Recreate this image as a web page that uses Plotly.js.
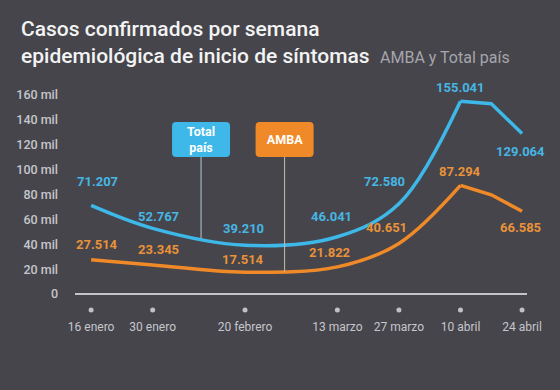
<!DOCTYPE html>
<html><head><meta charset="utf-8">
<script src="https://cdn.plot.ly/plotly-3.0.1.min.js"></script>
<style>html,body{margin:0;padding:0;background:#45454b}</style>
</head><body>
<div id="chart" style="width:560px;height:390px"></div>
<script>
// ---- data ----
const weeks = ['2021-01-16','2021-01-30','2021-02-20','2021-03-13','2021-03-27','2021-04-10','2021-04-17','2021-04-24'];
const totalPais = [71207, 52767, 39210, 46041, 72580, 155041, 152900, 129064];
const amba      = [27514, 23345, 17514, 21822, 40651, 87294, 79800, 66585];
const totalLabels = ['71.207','52.767','39.210','46.041','72.580','155.041','','129.064'];
const ambaLabels  = ['27.514','23.345','17.514','21.822','40.651','87.294','','66.585'];
const tickDates  = ['2021-01-16','2021-01-30','2021-02-20','2021-03-13','2021-03-27','2021-04-10','2021-04-24'];
const tickLabels = ['16 enero','30 enero','20 febrero','13 marzo','27 marzo','10 abril','24 abril'];
const yTickVals  = [0,20000,40000,60000,80000,100000,120000,140000,160000];
const yTickText  = ['0','20 mil','40 mil','60 mil','80 mil','100 mil','120 mil','140 mil','160 mil'];

// ---- styles ----
const BG = '#45454b';
const BLUE = '#3db8e8', ORANGE = '#f08a28';
const BLUE_TXT = '#47b6e4', ORANGE_TXT = '#e9923a';
const AX = '#c6c6cb';
const FONT = 'Roboto';
const peak = 5; // index where the smooth rise ends

const traces = [];
[[totalPais, BLUE],[amba, ORANGE]].forEach(([ys, col]) => {
  traces.push({x: weeks.slice(0,peak+1), y: ys.slice(0,peak+1), type:'scatter', mode:'lines',
    line:{color:col, width:3.5, shape:'spline', smoothing:1}, hoverinfo:'skip', showlegend:false});
  traces.push({x: weeks.slice(peak), y: ys.slice(peak), type:'scatter', mode:'lines',
    line:{color:col, width:3.5}, hoverinfo:'skip', showlegend:false});
});

// label offsets (px) per point
const totalDY = [24, 12, 17, 20, 22, 14, 0, -18];
const totalDX = [6, 6, -2, -6, -14, 0, 0, -2];
const ambaDY  = [15, 15, 13, 14, 16, 14, 0, -16];
const ambaDX  = [6, 6, -2, -8, -12, 0, 0, -2];
const annotations = [];
function addLabels(ys, labels, dy, dx, col){
  ys.forEach((v,i) => {
    if(!labels[i]) return;
    annotations.push({x: weeks[i], y: v, xref:'x', yref:'y', text: labels[i], showarrow:false,
      yshift: dy[i], xshift: dx[i], font:{family:FONT, size:13, color:col, weight:'bold'}});
  });
}
addLabels(totalPais, totalLabels, totalDY, totalDX, BLUE_TXT);
addLabels(amba, ambaLabels, ambaDY, ambaDX, ORANGE_TXT);

// callouts (rounded boxes drawn as shapes, text + leader line as annotations)
const boxY = 124200;
const callouts = [
  {date:'2021-02-10', tip:45000, text:'Total<br>país', fill:BLUE, lineCol:'#b9c6cf'},
  {date:'2021-03-01', tip:17500, text:'AMBA', fill:ORANGE, lineCol:'#c9bcae'}
];
const hw = 29, hh = 17.5, r = 4;
const roundRect = `M ${-hw+r},${-hh} L ${hw-r},${-hh} Q ${hw},${-hh} ${hw},${-hh+r} L ${hw},${hh-r} Q ${hw},${hh} ${hw-r},${hh} L ${-hw+r},${hh} Q ${-hw},${hh} ${-hw},${hh-r} L ${-hw},${-hh+r} Q ${-hw},${-hh} ${-hw+r},${-hh} Z`;
const shapes = [];
callouts.forEach(c => {
  shapes.push({type:'path', xref:'x', yref:'y', xsizemode:'pixel', ysizemode:'pixel',
    xanchor:c.date, yanchor:boxY, path:roundRect, fillcolor:c.fill, line:{width:0}, layer:'above'});
  annotations.push({x:c.date, y:c.tip, xref:'x', yref:'y', axref:'x', ayref:'y', ax:c.date, ay:boxY,
    text:c.text, showarrow:true, arrowhead:0, arrowwidth:1, arrowcolor:c.lineCol,
    borderwidth:0, borderpad:0, width:2*hw, height:2*hh,
    font:{family:FONT, size:12.5, color:'#ffffff', weight:'bold'}});
});

// x tick dots
tickDates.forEach(d => shapes.push({type:'circle', xref:'x', yref:'paper', xsizemode:'pixel', ysizemode:'pixel',
  xanchor:d, yanchor:-0.047, x0:-2.5, x1:2.5, y0:-2.5, y1:2.5, fillcolor:'#c0c0c5', line:{width:0}}));

const layout = {
  width:560, height:390,
  paper_bgcolor:BG, plot_bgcolor:BG,
  margin:{l:75, r:33, t:88, b:90},
  font:{family:FONT, color:AX},
  title:{text:"Casos confirmados por semana<br>epidemiológica de inicio de síntomas  <span style='font-size:16px;color:#a6a6ab;font-weight:400'>AMBA y Total país</span>",
    x:21/560, xanchor:'left', xref:'container', y:1-36/390, yanchor:'top', yref:'container',
    font:{family:FONT, size:21, color:'#f3f3f3', weight:500}},
  xaxis:{type:'date', range:['2021-01-12 08:00','2021-04-25 03:00'], tickvals:tickDates, ticktext:tickLabels,
    showgrid:false, zeroline:false, showline:false, ticks:'outside', ticklen:16, tickcolor:'rgba(0,0,0,0)',
    tickfont:{family:FONT, size:12, color:AX}, fixedrange:true},
  yaxis:{range:[-4800,165600], tickvals:yTickVals, ticktext:yTickText, showgrid:false,
    zeroline:true, zerolinecolor:'#c3c3c8', zerolinewidth:2, showline:false, ticks:'',
    ticklabelstandoff:16, tickfont:{family:FONT, size:12.5, color:AX, weight:500}, fixedrange:true},
  annotations, shapes, showlegend:false
};
Plotly.newPlot('chart', traces, layout, {displayModeBar:false, staticPlot:true});
</script>
</body></html>
